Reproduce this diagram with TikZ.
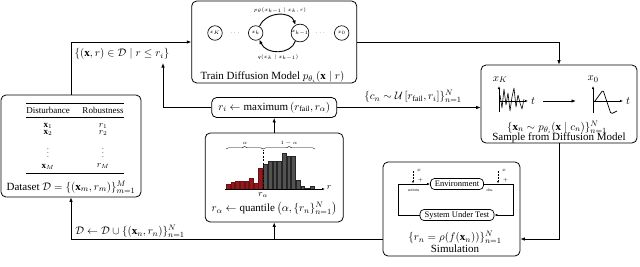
\documentclass[tikz,border=0pt]{standalone}
\usepackage{amsmath,amssymb}
\usepackage{fontspec}
\setmainfont{Liberation Serif}
\usetikzlibrary{arrows.meta,decorations.pathreplacing,calc}
\definecolor{barred}{RGB}{150,24,28}
\definecolor{bargray}{RGB}{82,82,82}
\begin{document}
\begin{tikzpicture}[x=1pt,y=-1pt,
  box/.style={draw, rounded corners=5pt, line width=0.8pt, inner sep=0pt},
  conn/.style={-{Latex[length=4.5pt,width=3.5pt]}, line width=0.75pt},
  small/.style={-{Latex[length=3pt,width=2.4pt]}, line width=0.6pt},
  big/.style={font=\fontsize{11}{13}\selectfont, inner sep=0pt},
  tbl/.style={font=\fontsize{9}{10}\selectfont, inner sep=0pt},
  tiny/.style={font=\fontsize{5}{6}\selectfont, inner sep=0pt},
  minitxt/.style={font=\fontsize{4}{5}\selectfont, inner sep=0pt},
  dnode/.style={draw, circle, line width=0.65pt, minimum size=14.5pt, inner sep=0pt, font=\fontsize{5}{6}\selectfont},
  inbox/.style={draw, rounded corners=4pt, line width=0.7pt, inner sep=0pt, minimum height=11pt, font=\fontsize{8.5}{10}\selectfont},
  redbar/.style={fill=barred, draw=barred!70!black, line width=0.2pt},
  graybar/.style={fill=bargray, draw=black!85, line width=0.2pt},
]
\useasboundingbox (0,0) rectangle (640,266);

% ---------- Train diffusion model ----------
\node[box, minimum width=165pt, minimum height=82pt] (train) at (274.2,42) {};
\node[big] (trainlbl) at (272.5,76.5) {Train Diffusion Model $p_{\theta_i}(\mathbf{x}\mid r)$};
\node[dnode] (xK) at (215,33) {$x_K$};
\node[dnode] (xk) at (255.7,33) {$x_k$};
\node[dnode, minimum size=16pt] (xk1) at (300,33) {$x_{k-1}$};
\node[dnode] (x0) at (341.7,33) {$x_0$};
\node[tiny] (d1) at (235.5,33) {$\cdots$};
\node[tiny] (d2) at (321,33) {$\cdots$};
\draw[conn, line width=0.9pt] (xk.60) .. controls (266,11) and (291,11) .. (xk1.120);
\draw[conn, line width=0.9pt] (xk1.240) .. controls (291,55) and (266,55) .. (xk.300);
\node[tiny] (plbl) at (280,10.5) {$p_\theta(x_{k-1}\mid x_k, r)$};
\node[tiny] (qlbl) at (278,57.5) {$q(x_k\mid x_{k-1})$};

% ---------- Dataset ----------
\node[box, minimum width=140pt, minimum height=102pt] (data) at (71,146) {};
\draw[line width=0.7pt] (26,103) -- (124,103);
\draw[line width=0.5pt] (26,117.5) -- (124,117.5);
\draw[line width=0.7pt] (26,173.5) -- (124,173.5);
\node[tbl] (h1) at (48,110.5) {Disturbance};
\node[tbl] (h2) at (103,110.5) {Robustness};
\node[tbl] (a1) at (48,126) {$\mathbf{x}_1$};
\node[tbl] (b1) at (103,126) {$r_1$};
\node[tbl] (a2) at (48,133) {$\mathbf{x}_2$};
\node[tbl] (b2) at (103,133) {$r_2$};
\node[tbl, font=\fontsize{7}{8}\selectfont] (a3) at (48,150.5) {$\vdots$};
\node[tbl, font=\fontsize{7}{8}\selectfont] (b3) at (103,150.5) {$\vdots$};
\node[tbl] (a4) at (48,166.5) {$\mathbf{x}_M$};
\node[tbl] (b4) at (103,166.5) {$r_M$};
\node[big] (datalbl) at (71,187) {Dataset $\mathcal{D}=\{(\mathbf{x}_m,r_m)\}_{m=1}^{M}$};

% ---------- r_i box ----------
\node[box, big, minimum width=125pt, minimum height=20pt] (ri) at (274.2,107.5) {$r_i\leftarrow\operatorname{maximum}\left(r_{\mathrm{fail}},r_\alpha\right)$};

% ---------- Sample box ----------
\node[box, minimum width=156pt, minimum height=78pt] (sample) at (559,104) {};
\node[big] (xKl) at (500,79.5) {$x_K$};
\node[big] (x0l) at (593,79) {$x_0$};
\coordinate (ax1b) at (499,112);
\coordinate (ax1t) at (499,86);
\coordinate (ax1l) at (499,101);
\coordinate (ax1r) at (528,101);
\draw[small] (ax1b) -- (ax1t);
\draw[small] (ax1l) -- (ax1r);
\node[big] (t1) at (533,101) {$t$};
\draw[line width=0.6pt, line join=bevel] (500,95) -- (502,108) -- (504,89) -- (506,105) -- (508,93) -- (510,111) -- (512,97) -- (514,88) -- (516,107) -- (518,95) -- (520,103) -- (522,109) -- (524,99);
\coordinate (bigA) at (543,101);
\coordinate (bigB) at (576,101);
\draw[conn, line width=0.9pt] (bigA) -- (bigB);
\coordinate (ax2b) at (593,113);
\coordinate (ax2t) at (593,86);
\coordinate (ax2l) at (593,101);
\coordinate (ax2r) at (623,101);
\draw[small] (ax2b) -- (ax2t);
\draw[small] (ax2l) -- (ax2r);
\node[big] (t2) at (628,101) {$t$};
\draw[line width=0.75pt, rounded corners=1.5pt] (595,101) -- (603,90) -- (611,114) -- (617,111);
\node[big] (samplbl1) at (557,127) {$\{\mathbf{x}_n\sim p_{\theta_i}(\mathbf{x}\mid c_n)\}_{n=1}^{N}$};
\node[big] (samplbl2) at (559,138) {Sample from Diffusion Model};

% ---------- Simulation ----------
\node[box, minimum width=137pt, minimum height=94pt] (sim) at (451.5,209) {};
\node[inbox, minimum width=53pt] (env) at (457,184) {Environment};
\node[inbox, minimum width=74pt] (sut) at (457,215) {System Under Test};
\coordinate (er) at (513,184);
\coordinate (sl) at (398,215);
\draw[small] (env.east) -- (er) |- (sut.east);
\draw[small] (sut.west) -- (sl) |- (env.west);
\coordinate (dA1) at (413,171);
\coordinate (dA2) at (413,183.5);
\coordinate (dB1) at (498,171);
\coordinate (dB2) at (498,183.5);
\draw[-{Latex[length=2.5pt,width=2pt]}, line width=0.5pt, dash pattern=on 2pt off 1pt] (dA1) -- (dA2);
\draw[-{Latex[length=2.5pt,width=2pt]}, line width=0.5pt, dash pattern=on 2pt off 1pt] (dB1) -- (dB2);
\node[minitxt] (xa) at (419,170) {$x$};
\node[tiny] (pa) at (420.5,180) {$+$};
\node[minitxt] (xb) at (504,170) {$x$};
\node[tiny] (pb) at (505.5,180) {$+$};
\node[minitxt] (act) at (413.5,190) {actions};
\node[minitxt] (obs) at (490,190) {obs.};
\node[big] (simlbl1) at (455,237.5) {$\{r_n=\rho(f(\mathbf{x}_n))\}_{n=1}^{N}$};
\node[big] (simlbl2) at (455,248.5) {Simulation};

% ---------- Quantile ----------
\node[box, minimum width=138pt, minimum height=89pt] (quant) at (274.2,177.5) {};
\foreach \h [count=\i from 0] in {5,6.5,7.5,8.3,8.3,11,6,21}
  \draw[redbar] (226+\i*4.65,189) rectangle ++(3.7,-\h);
\foreach \h [count=\i from 0] in {25,27.7,28.3,28.3,36,33.3,32.7,9.3,3.3,1.2,2.7}
  \draw[graybar] (263.4+\i*4.65,189) rectangle ++(3.7,-\h);
\coordinate (hb1) at (225,189);
\coordinate (hb2) at (325,189);
\draw[small] (hb1) -- (hb2);
\node[tbl] (rr) at (329,188) {$r$};
\coordinate (ra1) at (263.2,189);
\coordinate (ra2) at (263.2,150);
\draw[line width=0.5pt, dash pattern=on 2pt off 1.5pt] (ra1) -- (ra2);
\coordinate (br1) at (226,149);
\coordinate (br2) at (263.2,149);
\coordinate (br3) at (315,149);
\draw[decorate, decoration={brace, amplitude=2.5pt}, line width=0.4pt] (br1) -- (br2);
\draw[decorate, decoration={brace, amplitude=2.5pt}, line width=0.4pt] (br2) -- (br3);
\node[tiny] (alab) at (245,143) {$\alpha$};
\node[tiny] (blab) at (289,143) {$1-\alpha$};
\node[tbl] (ral) at (263.2,195.5) {$r_\alpha$};
\node[big] (quantlbl) at (274.2,209) {$r_\alpha\leftarrow\operatorname{quantile}\left(\alpha,\{r_n\}_{n=1}^{N}\right)$};

% ---------- Connectors ----------
\coordinate (c1) at (163,63);
\node[big] (setlbl) at (122,54) {$\{(\mathbf{x},r)\in\mathcal{D}\mid r\le r_i\}$};
\draw[conn] (data.north) |- (train.west);
\draw[conn] (ri.west) -| (c1);
\draw[conn] (ri.east) -- (ri.east -| sample.west);
\node[big] (cnlbl) at (413,96.5) {$\{c_n\sim\mathcal{U}\,[r_{\mathrm{fail}},r_i]\}_{n=1}^{N}$};
\draw[conn] (train.east) -| (sample.north);
\coordinate (c2) at (559,239);
\draw[conn] (sample.south) -- (c2) -- (c2 -| sim.east);
\coordinate (c3) at (71,239);
\coordinate (c4) at (274.2,239);
\draw[conn] (sim.west |- c3) -- (c3) -- (data.south);
\draw[conn] (c4) -- (quant.south);
\draw[conn] (quant.north) -- (ri.south);
\node[big] (dlbl) at (130,231.5) {$\mathcal{D}\leftarrow\mathcal{D}\cup\{(\mathbf{x}_n,r_n)\}_{n=1}^{N}$};
\end{tikzpicture}
\end{document}
